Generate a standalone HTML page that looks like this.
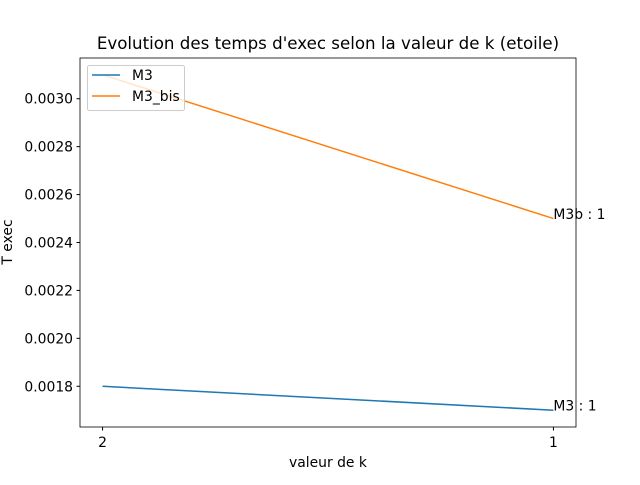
<!DOCTYPE html>
<html><head><meta charset="utf-8"><style>
body{margin:0;background:#fff}
svg{font-family:"DejaVu Sans","Liberation Sans",sans-serif}
</style></head><body>
<svg id="chart" width="640" height="480">
<rect width="640" height="480" fill="#fff"/>
<text x="328" y="49" font-size="16.67" text-anchor="middle">Evolution des temps d'exec selon la valeur de k (etoile)</text>
<g id="plot"></g>
<rect x="80" y="58" width="496" height="369" fill="none" stroke="#000" stroke-width="0.8"/>
<text x="328" y="467" font-size="13.9" text-anchor="middle">valeur de k</text>
<text transform="translate(12,242) rotate(-90)" font-size="13.9" text-anchor="middle">T exec</text>
<g>
<rect x="87.5" y="65.5" width="97" height="45" rx="2" fill="#fff" fill-opacity="0.8" stroke="#ccc"/>
<line x1="92" y1="75" x2="120" y2="75" stroke="#1f77b4" stroke-width="1.5"/>
<text x="132" y="80" font-size="13.9">M3</text>
<line x1="92" y1="96" x2="120" y2="96" stroke="#ff7f0e" stroke-width="1.5"/>
<text x="132" y="101" font-size="13.9">M3_bis</text>
</g>
</svg>
<script>
const categories=["2","1"];
const m3=[0.0018,0.0017];
const m3bis=[0.0031,0.0025];
const yTicks=[0.0018,0.0020,0.0022,0.0024,0.0026,0.0028,0.0030];
const ns="http://www.w3.org/2000/svg";
const g=document.getElementById('plot');
const x0=80,x1=576,y0=58,y1=427;
const all=m3.concat(m3bis);const mn=Math.min(...all),mx=Math.max(...all),pad=(mx-mn)*0.05;
const ymin=mn-pad,ymax=mx+pad;
const sy=v=>y1-(v-ymin)/(ymax-ymin)*(y1-y0);
const sx=i=>{const w=x1-x0,p=w*0.0455;return x0+p+i*(w-2*p)/(categories.length-1);};
function mk(t,a){const e=document.createElementNS(ns,t);for(const k in a)e.setAttribute(k,a[k]);g.appendChild(e);return e;}
yTicks.forEach(v=>{const y=sy(v);
const l=mk('line',{x1:x0-3.5,x2:x0,y1:y,y2:y,stroke:'#000'});


const t=mk('text',{x:x0-7,y:y+5,'font-size':13.9,'text-anchor':'end'});t.textContent=v.toFixed(4);

});
categories.forEach((c,i)=>{const x=sx(i);
const l=mk('line',{x1:x,x2:x,y1:y1,y2:y1+3.5,stroke:'#000'});


const t=mk('text',{x:x,y:y1+20,'font-size':13.9,'text-anchor':'middle'});t.textContent=c;

});
[[m3,'#1f77b4','m3-line','M3 : 1'],[m3bis,'#ff7f0e','m3-bis-line','M3b : 1']].forEach(([d,c,n,lab])=>{
const p=mk('polyline',{points:d.map((v,i)=>sx(i)+','+sy(v)).join(' '),fill:'none',stroke:c,'stroke-width':1.5});


const li=d.length-1;
const t=mk('text',{x:sx(li),y:sy(d[li])+0.5,'font-size':13.9});t.textContent=lab;

});
</script>
</body></html>
